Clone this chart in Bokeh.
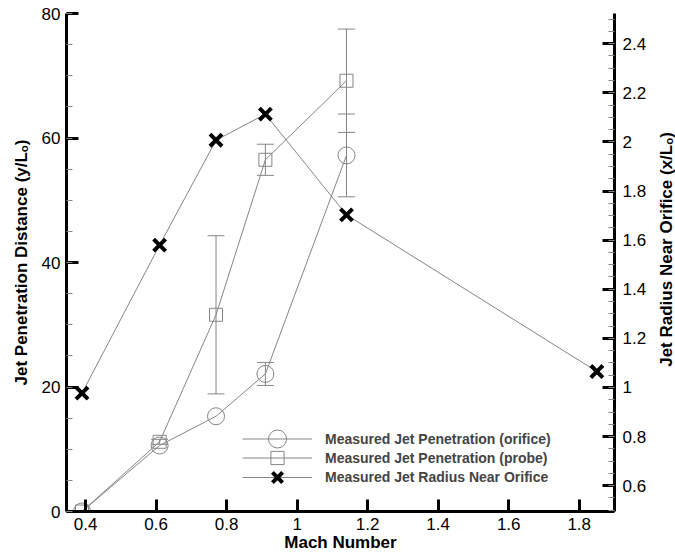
import math
from bokeh.plotting import figure
from bokeh.layouts import row
from bokeh.models import (Range1d, LinearAxis, SingleIntervalTicker, CustomJSTickFormatter,
                          Whisker, TeeHead, ColumnDataSource, Legend, LegendItem)
from bokeh.core.properties import value
from bokeh.embed import file_html
from bokeh.resources import INLINE

# ---- data ----
mach = [0.39, 0.61, 0.77, 0.91, 1.14]
pen_orifice = [0.0, 10.6, 15.3, 22.1, 57.2]
pen_orifice_err = [0.0, 0.0, 0.0, 1.85, 6.65]
pen_probe = [0.0, 11.2, 31.6, 56.5, 69.2]
pen_probe_err = [0.0, 0.4, 12.7, 2.5, 8.3]
mach_radius = [0.39, 0.61, 0.77, 0.91, 1.14, 1.85]
radius = [0.977, 1.58, 2.007, 2.113, 1.703, 1.065]

x_label = "Mach Number"
y_label = "Jet Penetration Distance (y/L\u2092)"
y2_label = "Jet Radius Near Orifice (x/L\u2092)"
legend_labels = ["Measured Jet Penetration (orifice)",
                 "Measured Jet Penetration (probe)",
                 "Measured Jet Radius Near Orifice"]

FONT = "Liberation Sans"
GRAY = "#858585"

p = figure(width=653, height=554, x_range=Range1d(0.346, 1.9), y_range=Range1d(0, 80),
           output_backend="svg", toolbar_location=None,
           min_border_left=66, min_border_right=39, min_border_top=13, min_border_bottom=42,
           outline_line_color=None, background_fill_color="white", border_fill_color="white")
p.xgrid.visible = False
p.ygrid.visible = False
p.extra_y_ranges = {"right": Range1d(0.495, 2.523)}

fmt = CustomJSTickFormatter(code="return String(Math.round(tick*100)/100);")


def style(ax, label, interval, minor, label_standoff, title_standoff):
    ax.ticker = SingleIntervalTicker(interval=interval, num_minor_ticks=minor)
    ax.formatter = fmt
    ax.axis_label = label
    ax.axis_label_text_font = FONT
    ax.axis_label_text_font_style = "bold"
    ax.axis_label_text_font_size = "17px"
    ax.axis_label_text_color = "black"
    ax.axis_label_standoff = title_standoff
    ax.major_label_text_font = FONT
    ax.major_label_text_font_size = "17px"
    ax.major_label_text_color = "black"
    ax.major_label_standoff = label_standoff
    ax.axis_line_width = 3
    ax.axis_line_color = "black"
    ax.major_tick_in = 12
    ax.major_tick_out = 0
    ax.major_tick_line_width = 3
    ax.major_tick_line_color = "black"
    ax.minor_tick_in = 6
    ax.minor_tick_out = 0
    ax.minor_tick_line_width = 1
    ax.minor_tick_line_color = "#888888"


style(p.xaxis[0], x_label, 0.2, 0, 6, 0)
style(p.yaxis[0], y_label, 20, 4, 6, 8)
right = LinearAxis(y_range_name="right")
style(right, None, 0.2, 4, 8, 10)
p.add_layout(right, "right")

# ---- error bars ----
def whisk(xs, ys, es):
    xx = [x for x, e in zip(xs, es) if e > 0]
    up = [y + e for y, e in zip(ys, es) if e > 0]
    lo = [y - e for y, e in zip(ys, es) if e > 0]
    src = ColumnDataSource(dict(x=xx, upper=up, lower=lo))
    w = Whisker(base="x", upper="upper", lower="lower", source=src,
                line_color=GRAY, line_width=1,
                upper_head=TeeHead(size=17, line_color=GRAY, line_width=1),
                lower_head=TeeHead(size=17, line_color=GRAY, line_width=1))
    p.add_layout(w)

whisk(mach, pen_orifice, pen_orifice_err)
whisk(mach, pen_probe, pen_probe_err)

# ---- lines and markers ----
l1 = p.line(mach, pen_orifice, line_color=GRAY, line_width=1)
m1 = p.scatter(mach, pen_orifice, marker="circle", size=17, fill_color=None,
               line_color=GRAY, line_width=1)
l2 = p.line(mach, pen_probe, line_color=GRAY, line_width=1)
m2 = p.scatter(mach, pen_probe, marker="square", size=13, fill_color=None,
               line_color=GRAY, line_width=1)
l3 = p.line(mach_radius, radius, line_color=GRAY, line_width=1, y_range_name="right")
m3 = p.scatter(mach_radius, radius, marker="x", size=17, line_color="black",
               line_width=4, y_range_name="right")

# one legend per row so that each sample marker gets its own size
for lab, rends, gh, loc_y in [(legend_labels[0], [l1, m1], 45, 50),
                              (legend_labels[1], [l2, m2], 33, 37),
                              (legend_labels[2], [l3, m3], 36, 16)]:
    lg = Legend(items=[LegendItem(label=lab, renderers=rends)],
                location=(176, loc_y), padding=0, margin=0, spacing=0,
                glyph_width=70, glyph_height=gh, label_height=18, label_standoff=13,
                label_text_font=FONT, label_text_font_style="bold",
                label_text_font_size="14px", border_line_color=None,
                background_fill_alpha=0)
    p.add_layout(lg)

# right-axis title strip, reading bottom-to-top like the reference
t = figure(width=22, height=554, x_range=Range1d(0, 1), y_range=Range1d(0, 554),
           output_backend="svg", toolbar_location=None, min_border=0,
           x_axis_location=None, y_axis_location=None, outline_line_color=None,
           background_fill_color="white", border_fill_color="white")
t.xgrid.visible = False
t.ygrid.visible = False
t.text(x=[0.6], y=[554 - 262.5], text=[y2_label], angle=math.pi / 2,
       text_align="center", text_baseline="middle", text_font=value(FONT),
       text_font_style="bold", text_font_size="17px", text_color="black")

open("out.html", "w").write(file_html(row(p, t, spacing=0), INLINE))
